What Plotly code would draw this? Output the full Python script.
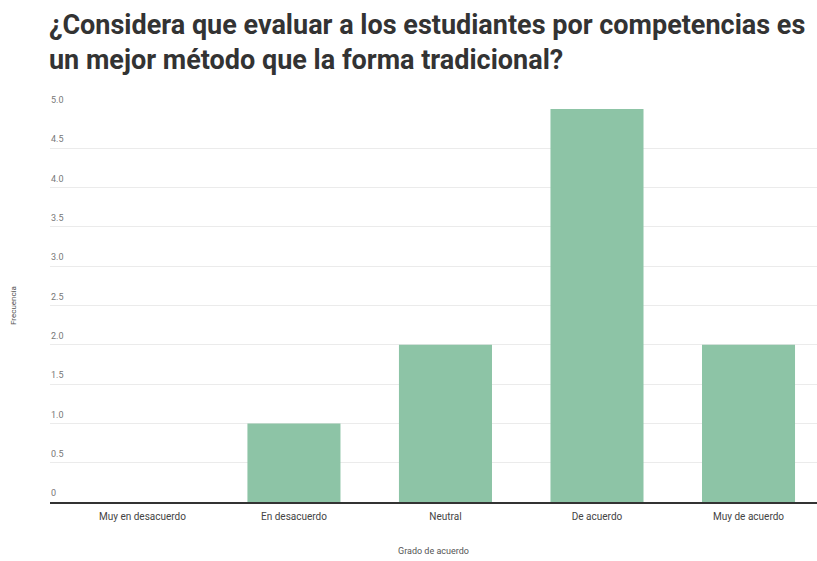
import plotly.graph_objects as go

# Survey answers: agreement level vs. number of responses
categorias = ["Muy en desacuerdo", "En desacuerdo", "Neutral", "De acuerdo", "Muy de acuerdo"]
frecuencias = [0, 1, 2, 5, 2]

# Y-axis ticks
y_ticks = [0, 0.5, 1.0, 1.5, 2.0, 2.5, 3.0, 3.5, 4.0, 4.5, 5.0]
y_tick_labels = ["0", "0.5", "1.0", "1.5", "2.0", "2.5", "3.0", "3.5", "4.0", "4.5", "5.0"]

titulo = ("¿Considera que evaluar a los estudiantes por competencias es<br>"
          "un mejor método que la forma tradicional?")

fig = go.Figure(
    go.Bar(
        x=categorias,
        y=frecuencias,
        marker=dict(color="#8DC4A6", line=dict(width=0)),
        hoverinfo="x+y",
    )
)

fig.update_layout(
    width=817,
    height=561,
    paper_bgcolor="white",
    plot_bgcolor="white",
    margin=dict(l=50, r=0, t=109, b=59),
    bargap=0.386,
    showlegend=False,
    title=dict(
        text=titulo,
        x=49 / 817,
        xanchor="left",
        xref="container",
        y=1 - 34 / 561,
        yanchor="top",
        yref="container",
        font=dict(family="Roboto", size=27, color="#333333", weight="bold"),
    ),
    xaxis=dict(
        type="category",
        range=[-0.61, 4.452],
        showgrid=False,
        showline=True,
        linecolor="#333333",
        linewidth=1.5,
        ticks="",
        ticklabelstandoff=4,
        tickfont=dict(family="Roboto", size=10, color="#444444"),
        title=dict(
            text="Grado de acuerdo",
            font=dict(family="Roboto", size=9, color="#555555"),
            standoff=27,
        ),
    ),
    yaxis=dict(
        range=[0, 5],
        tickvals=y_ticks,
        ticktext=y_tick_labels,
        showgrid=True,
        gridcolor="#ebebeb",
        gridwidth=1,
        zeroline=False,
        showline=False,
        ticks="",
        ticklabelposition="inside",
        ticklabelshift=-9,
        ticklabelstandoff=-2,
        ticklabeloverflow="allow",
        tickfont=dict(family="Roboto", size=9, color="#777777"),
        title=dict(
            text="Frecuencia",
            font=dict(family="Roboto", size=8, color="#555555"),
            standoff=33,
        ),
    ),
)

fig.write_html("out.html")
